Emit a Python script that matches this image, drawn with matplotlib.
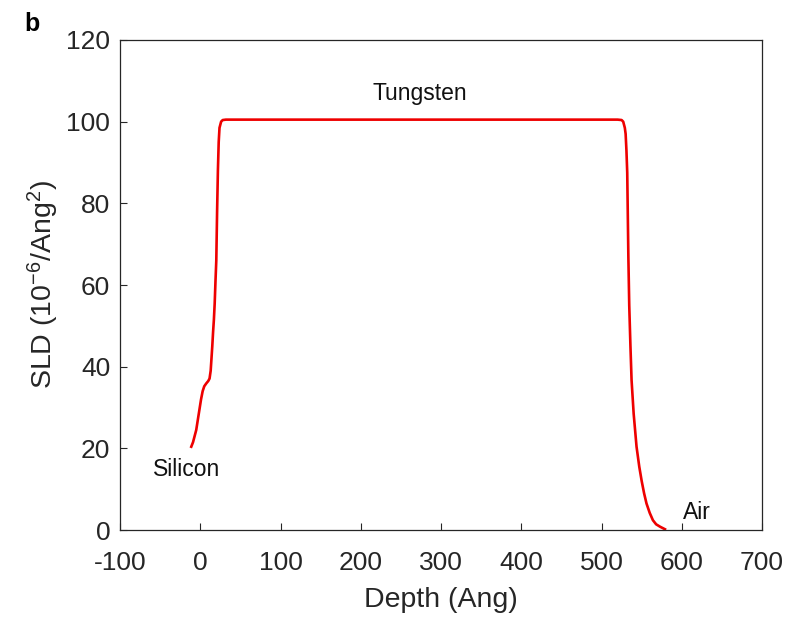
import matplotlib
matplotlib.use("Agg")
import matplotlib.pyplot as plt

plt.rcParams["font.family"] = ["Liberation Sans", "DejaVu Sans"]
plt.rcParams["mathtext.fontset"] = "custom"
plt.rcParams["mathtext.rm"] = "Liberation Sans"
plt.rcParams["mathtext.it"] = "Liberation Sans"
plt.rcParams["axes.unicode_minus"] = False

depth = [-11.2, -9, -7, -5, -3, -1, 1, 3, 5, 7.5, 10, 11.6, 13, 14, 15, 16, 17, 18,
         19, 20, 21, 22, 23, 24, 26, 28, 32, 100, 200, 300, 400, 500, 520, 525, 527,
         529, 530, 531, 532, 533.4, 534.5, 536, 537.4, 540, 543.6, 547, 550, 553, 556,
         560, 564, 568, 573, 579]
sld = [20.4, 21.5, 23.0, 24.5, 27.0, 29.5, 32.0, 34.0, 35.2, 35.9, 36.5, 37.1, 39.0,
       42.0, 45.0, 48.5, 51.5, 55.5, 61.0, 66.0, 78.0, 88.0, 95.0, 98.5, 100.0, 100.4,
       100.5, 100.5, 100.5, 100.5, 100.5, 100.5, 100.5, 100.4, 100.0, 98.5, 97.0, 93.0,
       87.5, 67.0, 55.0, 45.0, 36.7, 28.5, 20.4, 15.5, 12.0, 9.0, 6.5, 4.2, 2.4, 1.4,
       0.8, 0.2]

xticks = [-100, 0, 100, 200, 300, 400, 500, 600, 700]
yticks = [0, 20, 40, 60, 80, 100, 120]

annotations = [("Tungsten", 273, 107), ("Silicon", -17, 14.7), ("Air", 619, 4.4)]

axcol = "#262626"
fig = plt.figure(figsize=(7.93, 6.24), dpi=100)
ax = fig.add_axes([0.1513, 0.1506, 0.961 - 0.1513, 0.9359 - 0.1506])
ax.plot(depth, sld, color="#ee0000", lw=1.9, solid_joinstyle="round")
ax.set_xlim(-100, 700)
ax.set_ylim(0, 120)
ax.set_xticks(xticks)
ax.set_yticks(yticks)
ax.tick_params(direction="in", length=5, width=0.8, labelsize=19, colors=axcol,
               top=False, right=False)
ax.tick_params(axis="x", pad=15)
ax.tick_params(axis="y", pad=7)
for s in ax.spines.values():
    s.set_color(axcol)
    s.set_linewidth(0.9)
ax.set_xlabel("Depth (Ang)", fontsize=20.5, color=axcol, labelpad=9)
ax.set_ylabel(r"SLD (10$^{\mathregular{-6}}$/Ang$^{\mathregular{2}}$)", fontsize=20.5,
              color=axcol, labelpad=4)
for txt, x, y in annotations:
    ax.text(x, y, txt, fontsize=16.5, color="#111111", ha="center", va="center")
fig.text(0.040, 0.962, "b", fontsize=18, fontweight="bold", ha="center", va="center")
fig.savefig("out.png", dpi=100)
